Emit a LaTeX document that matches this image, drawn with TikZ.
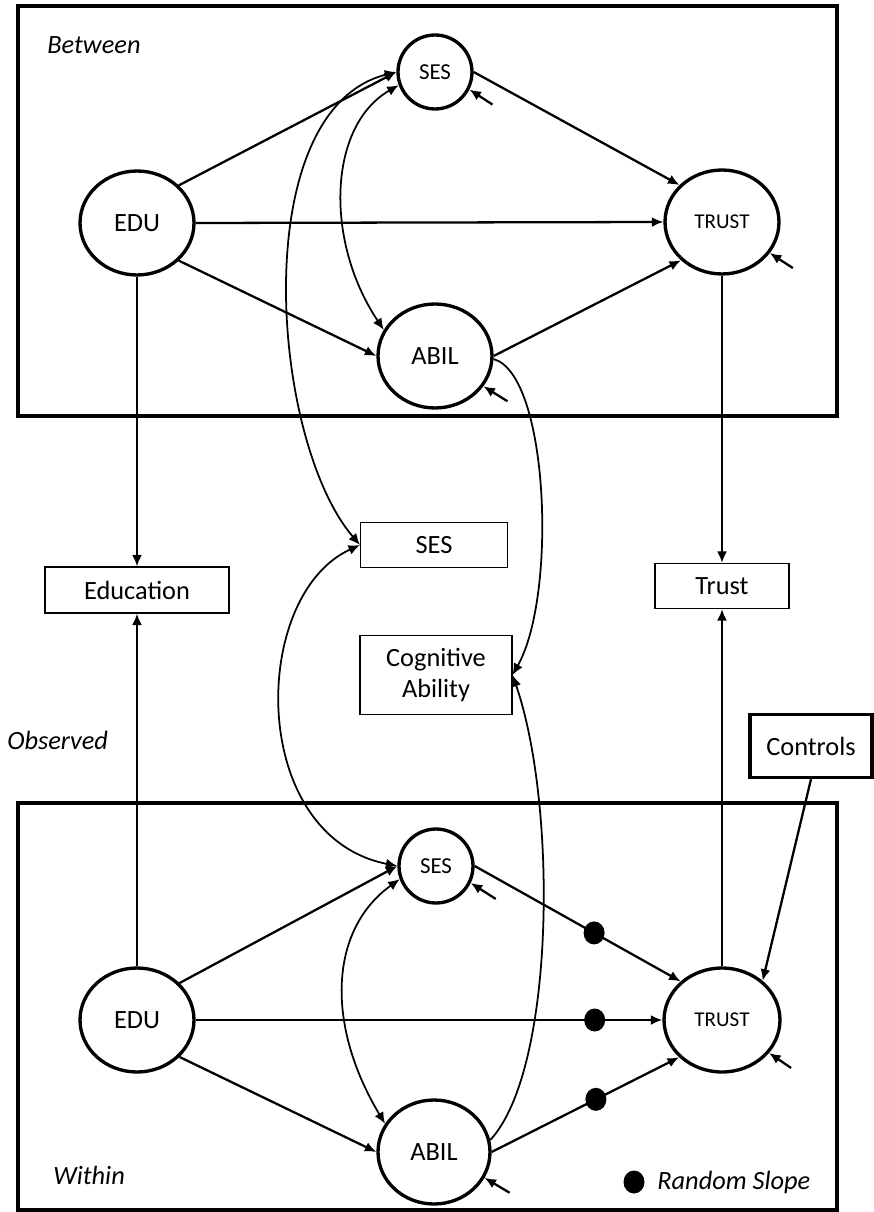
\documentclass[tikz,border=0pt]{standalone}
\usepackage{fontspec}
\setmainfont{Carlito}
\usetikzlibrary{positioning}
\usetikzlibrary{calc}
\usetikzlibrary{shapes.geometric}
\usetikzlibrary{arrows.meta}

\tikzset{
    latent/.style={draw, ellipse, line width=1.9pt, inner sep=0pt,
        minimum width=2.28cm, minimum height=2.08cm,
        font=\fontsize{15}{18}\selectfont},
    small/.style={latent, minimum width=1.48cm, minimum height=1.48cm,
        font=\fontsize{13}{15}\selectfont},
    outcome/.style={latent, font=\fontsize{12}{14}\selectfont},
    observed/.style={draw, rectangle, line width=0.6pt, inner sep=0pt,
        align=center, font=\fontsize{15}{18}\selectfont},
    slope/.style={fill, ellipse, inner sep=0pt,
        minimum width=0.42cm, minimum height=0.46cm},
    level/.style={anchor=west, inner sep=0pt,
        font=\fontsize{15}{18}\selectfont\itshape},
    frame/.style={line width=1.8pt},
    effect/.style={line width=1.3pt, -{Latex[length=2.3mm, width=2mm]}},
    resid/.style={line width=1.3pt, {Latex[length=2.3mm, width=2mm]}-},
    single/.style={line width=1pt, -{Latex[length=2.3mm, width=2mm]}},
    curve/.style={line width=1pt,
        {Latex[length=2.3mm, width=2mm]}-{Latex[length=2.3mm, width=2mm]}}
}

\begin{document}
\begin{tikzpicture}[x=0.02cm, y=-0.02cm]
    \useasboundingbox (0, 0) rectangle (874, 1212);

    \draw[frame] (18, 6) rectangle (837, 416);
    \draw[frame] (18, 803) rectangle (837, 1210);

    \node[level] (between) at (47, 45) {Between};
    \node[level] (observed) at (7, 740) {Observed};
    \node[level] (within) at (53, 1175) {Within};

    \node[latent] (edu-b) at (137, 223) {EDU};
    \node[small] (ses-b) at (435, 72) {SES};
    \node[latent] (abil-b) at (435, 356) {ABIL};
    \node[outcome] (trust-b) at (722, 222) {TRUST};

    \node[observed, minimum width=3.68cm, minimum height=0.92cm] (obs-edu) at (137, 590) {Education};
    \node[observed, minimum width=2.94cm, minimum height=0.9cm] (obs-ses) at (434, 545) {SES};
    \node[observed, minimum width=3.04cm, minimum height=1.58cm] (obs-cog) at (436, 675) {Cognitive\\Ability};
    \node[observed, minimum width=2.68cm, minimum height=0.9cm] (obs-trust) at (722, 586) {Trust};
    \node[observed, line width=1.8pt, minimum width=2.44cm, minimum height=1.26cm] (controls) at (811, 746) {Controls};

    \node[latent] (edu-w) at (137, 1020) {EDU};
    \node[small] (ses-w) at (436, 866) {SES};
    \node[latent, minimum width=2.24cm] (abil-w) at (434, 1152) {ABIL};
    \node[outcome, minimum width=2.32cm] (trust-w) at (722, 1020) {TRUST};

    \node[slope] (legend-dot) at (634, 1182) {};
    \node[level] (legend) at (657, 1182) {Random Slope};

    \draw[effect] (edu-b.42) -- (ses-b.west);
    \draw[effect] (edu-b.east) -- (trust-b.west);
    \draw[effect] (edu-b.-42) -- (abil-b.west);
    \draw[effect] (ses-b.east) -- (trust-b.139);
    \draw[effect] (abil-b.east) -- (trust-b.-137);
    \draw[effect] (edu-b.south) -- (obs-edu.north);
    \draw[effect] (trust-b.south) -- (obs-trust.north);
    \draw[curve] (ses-b.200) .. controls +(-70, 40) and +(-60, -90) .. (abil-b.153);
    \draw[curve] (obs-ses.west) .. controls +(-90, -105) and +(-150, 38) .. (ses-b.west);
    \draw[single] (abil-b.-3) .. controls +(55, 15) and +(45, -80) .. (obs-cog.east);
    \draw[resid] (ses-b.-27) -- ++(23, 15);
    \draw[resid] (abil-b.-32) -- ++(24, 15);
    \draw[resid] (trust-b.-33) -- ++(23, 15);

    \draw[effect] (edu-w.41) -- (ses-w.west);
    \draw[effect] (edu-w.east) -- node[slope, pos=.855] (slope-edu) {} (trust-w.west);
    \draw[effect] (edu-w.-41) -- (abil-w.west);
    \draw[effect] (ses-w.east) -- node[slope, pos=.58] (slope-ses) {} (trust-w.137);
    \draw[effect] (abil-w.east) -- node[slope, pos=.556] (slope-abil) {} (trust-w.-139);
    \draw[effect] (edu-w.north) -- (obs-edu.south);
    \draw[effect] (trust-w.north) -- (obs-trust.south);
    \draw[effect] (controls.south) -- (trust-w.44);
    \draw[curve] (ses-w.200) .. controls +(-70, 50) and +(-60, -100) .. (abil-w.150);
    \draw[curve] (obs-ses.west) .. controls +(-110, 50) and +(-150, -30) .. (ses-w.west);
    \draw[single] (abil-w.12) .. controls +(65, -70) and +(45, 130) .. (obs-cog.east);
    \draw[resid] (ses-w.-26) -- ++(25, 16);
    \draw[resid] (abil-w.-27) -- ++(25, 15);
    \draw[resid] (trust-w.-35) -- ++(22, 15);
\end{tikzpicture}
\end{document}
